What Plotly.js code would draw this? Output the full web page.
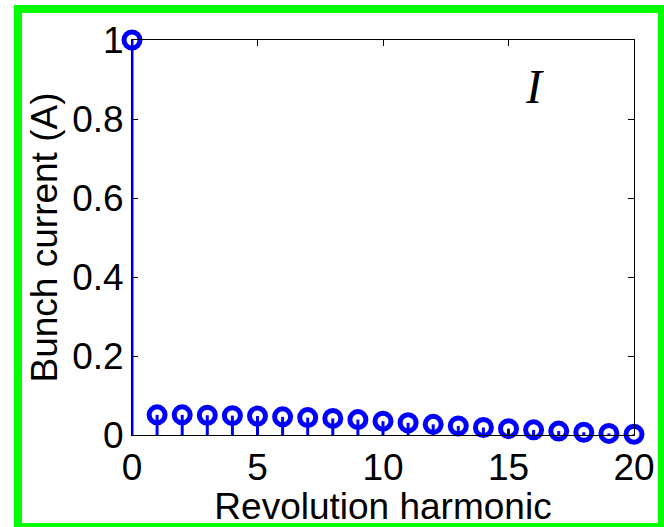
<!DOCTYPE html>
<html>
<head>
<meta charset="utf-8">
<script src="https://cdn.plot.ly/plotly-3.0.1.min.js"></script>
<style>
  html, body { margin: 0; padding: 0; background: #ffffff; }
  #wrap { position: relative; width: 664px; height: 527px; overflow: hidden; }
  #chart { position: absolute; left: 0; top: 0; width: 664px; height: 527px; }
  #frame {
    position: absolute; left: 14px; top: 5px; width: 636px; height: 510px;
    border: 8px solid #00ff00; pointer-events: none;
  }
</style>
</head>
<body>
<div id="wrap">
  <div id="chart"></div>
  <div id="frame"></div>
</div>
<script>
// Revolution harmonic index and bunch current spectrum (A)
const harmonics = [0, 1, 2, 3, 4, 5, 6, 7, 8, 9, 10, 11, 12, 13, 14, 15, 16, 17, 18, 19, 20];
const bunchCurrent = [1.0, 0.051, 0.051, 0.050, 0.049, 0.048, 0.046, 0.044, 0.042, 0.039, 0.035,
                      0.031, 0.027, 0.023, 0.019, 0.016, 0.013, 0.010, 0.007, 0.004, 0.002];
const xTicks = [0, 5, 10, 15, 20];
const yTicks = [0, 0.2, 0.4, 0.6, 0.8, 1];
const yTickText = ['0', '0.2', '0.4', '0.6', '0.8', '1'];

const BLUE = '#0000ff';
const FONT = '"Liberation Sans", Arial, sans-serif';

// Stem plot: vertical stems from zero up to each value, open circle on top
const stems = {
  type: 'scatter',
  mode: 'markers',
  x: harmonics,
  y: bunchCurrent,
  cliponaxis: false,
  marker: {
    symbol: 'circle-open',
    size: 16,
    color: BLUE,
    line: { color: BLUE, width: 5 }
  },
  error_y: {
    type: 'data',
    symmetric: false,
    array: bunchCurrent.map(() => 0),
    arrayminus: bunchCurrent,
    width: 0,
    thickness: 3,
    color: BLUE
  },
  hoverinfo: 'x+y'
};

const axisCommon = {
  showline: true,
  linecolor: '#000000',
  linewidth: 1,
  mirror: 'ticks',
  ticks: 'inside',
  ticklen: 6,
  tickwidth: 1,
  tickcolor: '#000000',
  showgrid: false,
  zeroline: false,
  tickfont: { family: FONT, size: 37, color: '#000000' }
};

const layout = {
  width: 664,
  height: 527,
  margin: { l: 132, r: 30, t: 40, b: 92 },
  paper_bgcolor: '#ffffff',
  plot_bgcolor: '#ffffff',
  showlegend: false,
  xaxis: Object.assign({}, axisCommon, {
    range: [0, 20],
    tickmode: 'array',
    tickvals: xTicks,
    ticktext: xTicks.map(String),
    title: { text: 'Revolution harmonic', font: { family: FONT, size: 37, color: '#000000' }, standoff: 0 }
  }),
  yaxis: Object.assign({}, axisCommon, {
    range: [0, 1],
    tickmode: 'array',
    tickvals: yTicks,
    ticktext: yTickText,
    title: { text: 'Bunch current (A)', font: { family: FONT, size: 37, color: '#000000' }, standoff: 3 }
  }),
  annotations: [{
    x: 16.05, y: 0.882, xref: 'x', yref: 'y',
    text: '<i>I</i>',
    showarrow: false,
    font: { family: '"Liberation Serif", "Times New Roman", serif', size: 48, color: '#000000' }
  }]
};

Plotly.newPlot('chart', [stems], layout, { displayModeBar: false, staticPlot: true });
</script>
</body>
</html>
